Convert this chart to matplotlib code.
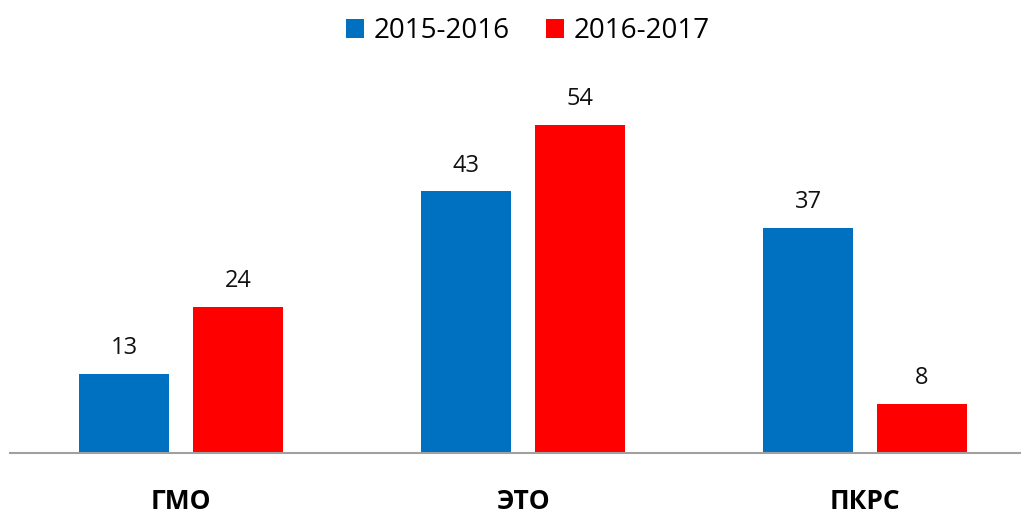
import numpy as np
import matplotlib
matplotlib.use('Agg')
import matplotlib.pyplot as plt

plt.rcParams['font.family'] = ['Open Sans', 'DejaVu Sans']

# данные
categories = ['ГМО', 'ЭТО', 'ПКРС']
series_names = ['2015-2016', '2016-2017']
vals_2015 = [13, 43, 37]
vals_2016 = [24, 54, 8]
colors = ['#0070C0', '#FF0000']

fig = plt.figure(figsize=(10.21, 5.14), dpi=100)
# оси: левый край 10px, низ 61px, ширина 3 группы по 342px
ax = fig.add_axes([10 / 1021, 61 / 514, 1026 / 1021, 365 / 514])

x = np.arange(len(categories))
w = 90 / 342
off = 57 / 342
b1 = ax.bar(x - off, vals_2015, w, color=colors[0], label=series_names[0])
b2 = ax.bar(x + off, vals_2016, w, color=colors[1], label=series_names[1])

for bars, vals in ((b1, vals_2015), (b2, vals_2016)):
    for bar, v in zip(bars, vals):
        ax.annotate(str(v), (bar.get_x() + bar.get_width() / 2, v),
                    xytext=(0, 10), textcoords='offset points',
                    ha='center', va='bottom', fontsize=17, color='#111111')

ax.set_xlim(-0.5, 2.5)
ax.set_ylim(0, 60)
ax.set_xticks(x)
ax.set_xticklabels(categories, fontsize=19, fontweight='bold')
ax.tick_params(axis='x', length=0, pad=25)
ax.set_yticks([])
for s in ['top', 'right', 'left']:
    ax.spines[s].set_visible(False)
ax.spines['bottom'].set_color('#A0A0A0')
ax.spines['bottom'].set_linewidth(1.5)

fig.legend(loc='center', bbox_to_anchor=(528 / 1021, 1 - 31 / 514), ncol=2,
           frameon=False, fontsize=20, handlelength=0.65, handleheight=0.65,
           handletextpad=0.35, columnspacing=1.3)

fig.savefig('out.png', dpi=100)
